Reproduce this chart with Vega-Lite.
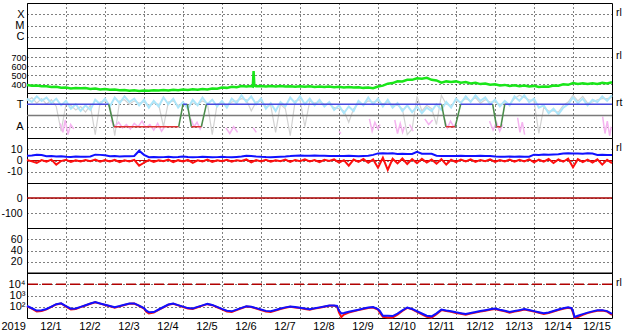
{
"$schema": "https://vega.github.io/schema/vega-lite/v6.json",
"padding": {"left": 0, "top": 2, "right": 0, "bottom": 0},
"background": "white",
"spacing": 0,
"bounds": "flush",
"config": {
  "view": {"stroke": "black", "strokeWidth": 1},
  "concat": {"spacing": 0},
  "axis": {"domain": false, "ticks": false, "tickSize": 0, "grid": true, "gridColor": "black", "gridOpacity": 1, "gridDash": [1,3], "gridWidth": 1, "labelColor": "black", "labelFont": "Liberation Sans, Arial, sans-serif", "labelFontSize": 10.5, "labelOverlap": false, "labelBound": false, "labelPadding": 5, "minExtent": 0},
  "axisY": {"title": "\u00a0", "titleX": -32, "titleY": 0, "titleAngle": 0, "titleAlign": "left", "titleBaseline": "top", "titleFontSize": 1, "titlePadding": 0, "labelOverlap": false},
  "text": {"font": "Liberation Sans, Arial, sans-serif"}
},
"datasets": {
  "one": [{}],
  "g": [{"d":0,"v":390},{"d":0.125,"v":380},{"d":0.25,"v":384},{"d":0.375,"v":374},{"d":0.5,"v":376},{"d":0.625,"v":366},{"d":0.75,"v":369},{"d":0.875,"v":358},{"d":1,"v":361},{"d":1.125,"v":351},{"d":1.25,"v":356},{"d":1.375,"v":352},{"d":1.5,"v":355},{"d":1.625,"v":345},{"d":1.75,"v":350},{"d":1.875,"v":340},{"d":2,"v":345},{"d":2.125,"v":335},{"d":2.25,"v":339},{"d":2.375,"v":330},{"d":2.5,"v":334},{"d":2.625,"v":325},{"d":2.75,"v":330},{"d":2.875,"v":322},{"d":3,"v":327},{"d":3.125,"v":324},{"d":3.25,"v":331},{"d":3.375,"v":327},{"d":3.5,"v":334},{"d":3.625,"v":329},{"d":3.75,"v":336},{"d":3.875,"v":331},{"d":4,"v":339},{"d":4.125,"v":334},{"d":4.25,"v":341},{"d":4.375,"v":336},{"d":4.5,"v":344},{"d":4.625,"v":340},{"d":4.75,"v":350},{"d":4.875,"v":348},{"d":5,"v":360},{"d":5.125,"v":357},{"d":5.25,"v":369},{"d":5.375,"v":365},{"d":5.5,"v":377},{"d":5.625,"v":373},{"d":5.75,"v":378},{"d":5.79,"v":372},{"d":5.81,"v":545},{"d":5.83,"v":380},{"d":5.875,"v":374},{"d":6,"v":379},{"d":6.125,"v":373},{"d":6.25,"v":378},{"d":6.375,"v":372},{"d":6.5,"v":377},{"d":6.625,"v":371},{"d":6.75,"v":376},{"d":6.875,"v":370},{"d":7,"v":375},{"d":7.125,"v":369},{"d":7.25,"v":374},{"d":7.375,"v":368},{"d":7.5,"v":373},{"d":7.625,"v":367},{"d":7.75,"v":371},{"d":7.875,"v":365},{"d":8,"v":369},{"d":8.125,"v":362},{"d":8.25,"v":366},{"d":8.375,"v":360},{"d":8.5,"v":364},{"d":8.625,"v":357},{"d":8.75,"v":361},{"d":8.875,"v":353},{"d":9,"v":372},{"d":9.125,"v":382},{"d":9.25,"v":404},{"d":9.375,"v":410},{"d":9.5,"v":430},{"d":9.625,"v":428},{"d":9.75,"v":446},{"d":9.875,"v":446},{"d":10,"v":464},{"d":10.125,"v":458},{"d":10.25,"v":468},{"d":10.375,"v":446},{"d":10.5,"v":440},{"d":10.625,"v":414},{"d":10.75,"v":429},{"d":10.875,"v":422},{"d":11,"v":429},{"d":11.125,"v":415},{"d":11.25,"v":421},{"d":11.375,"v":407},{"d":11.5,"v":413},{"d":11.625,"v":399},{"d":11.75,"v":405},{"d":11.875,"v":391},{"d":12,"v":397},{"d":12.125,"v":384},{"d":12.25,"v":390},{"d":12.375,"v":378},{"d":12.5,"v":385},{"d":12.625,"v":375},{"d":12.75,"v":382},{"d":12.875,"v":372},{"d":13,"v":379},{"d":13.125,"v":367},{"d":13.25,"v":373},{"d":13.375,"v":369},{"d":13.5,"v":384},{"d":13.625,"v":380},{"d":13.75,"v":396},{"d":13.875,"v":391},{"d":14,"v":410},{"d":14.125,"v":401},{"d":14.25,"v":409},{"d":14.375,"v":400},{"d":14.5,"v":407},{"d":14.625,"v":400},{"d":14.75,"v":413},{"d":14.875,"v":407},{"d":15,"v":420}],
  "p3": [{"d":0,"lb":3.5,"gy":3.3},{"d":0.125,"lb":3.2,"gy":3.6},{"d":0.25,"lb":3.7,"gy":3.1},{"d":0.375,"lb":3.3,"gy":3.5},{"d":0.5,"lb":3.6,"gy":3.0},{"d":0.625,"lb":3.1,"gy":3.4},{"d":0.75,"lb":3.5,"gy":2.8},{"d":0.875,"lb":2.9,"gy":0.6},{"d":1,"lb":3.3,"gy":3.0},{"d":1.125,"lb":2.6,"gy":2.9},{"d":1.25,"lb":3.0,"gy":2.5},{"d":1.375,"lb":2.4,"gy":2.8},{"d":1.5,"lb":2.9,"gy":2.3},{"d":1.625,"lb":2.5,"gy":2.9},{"d":1.75,"lb":3.4,"gy":0.3},{"d":1.875,"lb":3.0,"gy":3.2},{"d":2,"lb":3.5,"gy":3.3},{"d":2.125,"lb":2.8,"gy":3.0},{"d":2.25,"lb":3.6,"gy":0.2},{"d":2.375,"lb":3.1,"gy":3.3},{"d":2.5,"lb":3.7,"gy":3.4},{"d":2.625,"lb":3.2,"gy":3.0},{"d":2.75,"lb":3.5,"gy":3.3},{"d":2.875,"lb":2.9,"gy":3.1},{"d":3,"lb":3.4,"gy":3.2},{"d":3.125,"lb":2.7,"gy":2.9},{"d":3.25,"lb":3.3,"gy":3.1},{"d":3.375,"lb":2.8,"gy":3.0},{"d":3.5,"lb":3.6,"gy":1.0},{"d":3.625,"lb":3.0,"gy":3.2},{"d":3.75,"lb":3.5,"gy":3.3},{"d":3.875,"lb":2.7,"gy":2.9},{"d":4,"lb":3.2,"gy":3.0},{"d":4.125,"lb":2.6,"gy":2.8},{"d":4.25,"lb":3.4,"gy":3.1},{"d":4.375,"lb":2.9,"gy":3.0},{"d":4.5,"lb":3.6,"gy":3.3},{"d":4.625,"lb":3.0,"gy":3.1},{"d":4.75,"lb":3.4,"gy":0.3},{"d":4.875,"lb":2.8,"gy":3.0},{"d":5,"lb":3.3,"gy":3.1},{"d":5.125,"lb":2.7,"gy":2.9},{"d":5.25,"lb":3.5,"gy":3.2},{"d":5.375,"lb":3.1,"gy":3.3},{"d":5.5,"lb":3.8,"gy":3.5},{"d":5.625,"lb":3.2,"gy":3.4},{"d":5.75,"lb":3.7,"gy":2.4},{"d":5.875,"lb":3.0,"gy":3.2},{"d":6,"lb":3.5,"gy":3.3},{"d":6.125,"lb":2.6,"gy":2.8},{"d":6.25,"lb":3.1,"gy":2.9},{"d":6.375,"lb":2.4,"gy":0.5},{"d":6.5,"lb":3.2,"gy":3.0},{"d":6.625,"lb":2.8,"gy":2.6},{"d":6.75,"lb":3.6,"gy":0.2},{"d":6.875,"lb":3.1,"gy":3.3},{"d":7,"lb":3.7,"gy":3.4},{"d":7.125,"lb":3.0,"gy":1.0},{"d":7.25,"lb":3.5,"gy":3.3},{"d":7.375,"lb":2.9,"gy":3.1},{"d":7.5,"lb":3.4,"gy":3.2},{"d":7.625,"lb":2.8,"gy":3.0},{"d":7.75,"lb":3.2,"gy":3.0},{"d":7.875,"lb":2.5,"gy":2.7},{"d":8,"lb":2.9,"gy":2.6},{"d":8.125,"lb":2.2,"gy":2.4},{"d":8.25,"lb":2.8,"gy":1.4},{"d":8.375,"lb":2.4,"gy":2.6},{"d":8.5,"lb":3.3,"gy":3.1},{"d":8.625,"lb":2.9,"gy":3.0},{"d":8.75,"lb":3.6,"gy":3.3},{"d":8.875,"lb":3.0,"gy":3.2},{"d":9,"lb":3.5,"gy":3.3},{"d":9.125,"lb":2.8,"gy":3.0},{"d":9.25,"lb":3.4,"gy":3.2},{"d":9.375,"lb":2.7,"gy":2.9},{"d":9.5,"lb":3.1,"gy":2.9},{"d":9.625,"lb":2.4,"gy":2.6},{"d":9.75,"lb":2.9,"gy":0.3},{"d":9.875,"lb":2.3,"gy":0.8},{"d":10,"lb":2.8,"gy":3.7},{"d":10.125,"lb":2.2,"gy":2.4},{"d":10.25,"lb":2.7,"gy":2.9},{"d":10.375,"lb":2.4,"gy":2.6},{"d":10.5,"lb":3.0,"gy":1.2},{"d":10.625,"lb":2.5,"gy":3.8},{"d":10.75,"lb":3.2,"gy":3.0},{"d":10.875,"lb":2.7,"gy":2.9},{"d":11,"lb":3.5,"gy":3.3},{"d":11.125,"lb":3.1,"gy":3.2},{"d":11.25,"lb":3.7,"gy":3.5},{"d":11.375,"lb":3.2,"gy":3.3},{"d":11.5,"lb":3.8,"gy":3.6},{"d":11.625,"lb":3.3,"gy":3.1},{"d":11.75,"lb":3.6,"gy":3.4},{"d":11.875,"lb":3.0,"gy":3.2},{"d":12,"lb":3.4,"gy":3.2},{"d":12.125,"lb":2.8,"gy":3.0},{"d":12.25,"lb":3.3,"gy":3.1},{"d":12.375,"lb":2.9,"gy":3.0},{"d":12.5,"lb":3.7,"gy":3.5},{"d":12.625,"lb":3.3,"gy":3.8},{"d":12.75,"lb":3.8,"gy":3.6},{"d":12.875,"lb":3.2,"gy":3.4},{"d":13,"lb":3.5,"gy":3.3},{"d":13.125,"lb":2.7,"gy":0.4},{"d":13.25,"lb":2.9,"gy":2.7},{"d":13.375,"lb":2.2,"gy":2.4},{"d":13.5,"lb":2.6,"gy":2.4},{"d":13.625,"lb":2.1,"gy":2.3},{"d":13.75,"lb":2.7,"gy":2.9},{"d":13.875,"lb":3.0,"gy":3.2},{"d":14,"lb":3.6,"gy":3.8},{"d":14.125,"lb":3.1,"gy":3.3},{"d":14.25,"lb":3.5,"gy":3.7},{"d":14.375,"lb":2.9,"gy":3.1},{"d":14.5,"lb":3.4,"gy":3.2},{"d":14.625,"lb":3.2,"gy":3.4},{"d":14.75,"lb":3.7,"gy":3.5},{"d":14.875,"lb":3.3,"gy":3.5},{"d":15,"lb":3.8,"gy":3.6}],
  "pink": [{"d":0.85,"v":1.3,"s":1},{"d":0.92,"v":0.5,"s":1},{"d":0.98,"v":1.6,"s":1},{"d":1.05,"v":0.3,"s":1},{"d":1.12,"v":1.2,"s":1},{"d":1.2,"v":0.8,"s":1},
    {"d":2.15,"v":1.6,"s":2},{"d":2.25,"v":1.0,"s":2},{"d":2.35,"v":1.4,"s":2},{"d":2.45,"v":0.9,"s":2},{"d":2.55,"v":1.2,"s":2},{"d":2.65,"v":0.8,"s":2},{"d":2.75,"v":1.3,"s":2},{"d":2.85,"v":1.0,"s":2},{"d":2.95,"v":1.5,"s":2},{"d":3.05,"v":0.9,"s":2},{"d":3.15,"v":1.2,"s":2},{"d":3.25,"v":0.7,"s":2},{"d":3.35,"v":1.3,"s":2},{"d":3.45,"v":0.6,"s":2},{"d":3.55,"v":1.1,"s":2},
    {"d":4.2,"v":1.7,"s":3},{"d":4.28,"v":1.0,"s":3},{"d":4.36,"v":1.4,"s":3},{"d":4.44,"v":0.8,"s":3},{"d":4.5,"v":1.2,"s":3},
    {"d":5.1,"v":0.9,"s":4},{"d":5.2,"v":0.4,"s":4},{"d":5.3,"v":1.0,"s":4},{"d":5.4,"v":0.5,"s":4},
    {"d":5.8,"v":0.9,"s":5},{"d":5.88,"v":0.5,"s":5},
    {"d":8.0,"v":0.6,"s":6},{"d":8.05,"v":0.4,"s":6},
    {"d":8.78,"v":1.7,"s":7},{"d":8.85,"v":0.6,"s":7},{"d":8.92,"v":1.4,"s":7},{"d":9.0,"v":0.8,"s":7},{"d":9.05,"v":1.2,"s":7},
    {"d":9.43,"v":1.6,"s":8},{"d":9.5,"v":0.4,"s":8},{"d":9.57,"v":1.3,"s":8},{"d":9.63,"v":0.5,"s":8},{"d":9.68,"v":1.0,"s":8},
    {"d":9.81,"v":1.2,"s":9},{"d":9.9,"v":0.6,"s":9},
    {"d":10.2,"v":1.7,"s":10},{"d":10.3,"v":1.2,"s":10},{"d":10.4,"v":1.6,"s":10},
    {"d":10.7,"v":1.7,"s":11},{"d":10.78,"v":0.9,"s":11},{"d":10.86,"v":1.5,"s":11},{"d":10.94,"v":1.0,"s":11},{"d":11.0,"v":1.3,"s":11},
    {"d":11.86,"v":1.5,"s":12},{"d":11.95,"v":0.7,"s":12},{"d":12.04,"v":1.4,"s":12},{"d":12.12,"v":0.6,"s":12},{"d":12.2,"v":1.2,"s":12},
    {"d":12.58,"v":1.8,"s":13},{"d":12.64,"v":0.5,"s":13},{"d":12.7,"v":1.4,"s":13},{"d":12.76,"v":0.3,"s":13},
    {"d":14.76,"v":1.9,"s":14},{"d":14.82,"v":0.4,"s":14},{"d":14.88,"v":1.5,"s":14},{"d":14.94,"v":0.2,"s":14},{"d":14.98,"v":1.0,"s":14}],
  "state": [{"d":0,"v":3,"s":1,"k":"T"},{"d":2.095,"v":3,"s":1,"k":"T"},{"d":2.095,"v":3,"s":2,"k":"G"},{"d":2.23,"v":1,"s":2,"k":"G"},{"d":2.23,"v":1,"s":3,"k":"A"},{"d":3.89,"v":1,"s":3,"k":"A"},{"d":3.89,"v":1,"s":4,"k":"G"},{"d":4.0,"v":3,"s":4,"k":"G"},{"d":4.0,"v":3,"s":5,"k":"T"},{"d":4.11,"v":3,"s":5,"k":"T"},{"d":4.11,"v":3,"s":6,"k":"G"},{"d":4.215,"v":1,"s":6,"k":"G"},{"d":4.215,"v":1,"s":7,"k":"A"},{"d":4.47,"v":1,"s":7,"k":"A"},{"d":4.47,"v":1,"s":8,"k":"G"},{"d":4.6,"v":3,"s":8,"k":"G"},{"d":4.6,"v":3,"s":9,"k":"T"},{"d":10.63,"v":3,"s":9,"k":"T"},{"d":10.63,"v":3,"s":10,"k":"G"},{"d":10.74,"v":1,"s":10,"k":"G"},{"d":10.74,"v":1,"s":11,"k":"A"},{"d":10.98,"v":1,"s":11,"k":"A"},{"d":10.98,"v":1,"s":12,"k":"G"},{"d":11.12,"v":3,"s":12,"k":"G"},{"d":11.12,"v":3,"s":13,"k":"T"},{"d":11.94,"v":3,"s":13,"k":"T"},{"d":11.94,"v":3,"s":14,"k":"G"},{"d":12.04,"v":1,"s":14,"k":"G"},{"d":12.04,"v":1,"s":15,"k":"A"},{"d":12.15,"v":1,"s":15,"k":"A"},{"d":12.15,"v":1,"s":16,"k":"G"},{"d":12.25,"v":3,"s":16,"k":"G"},{"d":12.25,"v":3,"s":17,"k":"T"},{"d":15,"v":3,"s":17,"k":"T"}],
  "p4": [{"d":0,"b":4.3,"r":0.5},{"d":0.125,"b":4.5,"r":-0.8},{"d":0.25,"b":5.2,"r":-2.2},{"d":0.375,"b":4.8,"r":0.3},{"d":0.5,"b":3.8,"r":-1.0},{"d":0.625,"b":3.9,"r":0.8},{"d":0.75,"b":3.6,"r":-3.7},{"d":0.875,"b":3.8,"r":-0.5},{"d":1,"b":3.4,"r":0.6},{"d":1.125,"b":3.2,"r":-1.2},{"d":1.25,"b":3.5,"r":0.2},{"d":1.375,"b":3.3,"r":-0.9},{"d":1.5,"b":3.4,"r":0.4},{"d":1.625,"b":3.6,"r":-0.6},{"d":1.75,"b":5.2,"r":0.9},{"d":1.875,"b":5.0,"r":-1.1},{"d":2,"b":4.6,"r":0.3},{"d":2.125,"b":3.8,"r":-0.8},{"d":2.25,"b":3.9,"r":0.5},{"d":2.375,"b":3.6,"r":-1.4},{"d":2.5,"b":3.8,"r":0.1},{"d":2.625,"b":3.7,"r":-0.9},{"d":2.75,"b":4.0,"r":0.6},{"d":2.875,"b":8.7,"r":-4.6},{"d":3,"b":5.0,"r":-2.0},{"d":3.125,"b":2.9,"r":0.4},{"d":3.25,"b":3.0,"r":-1.3},{"d":3.375,"b":2.8,"r":0.2},{"d":3.5,"b":3.0,"r":-0.7},{"d":3.625,"b":3.3,"r":0.8},{"d":3.75,"b":2.9,"r":-1.5},{"d":3.875,"b":3.1,"r":0.3},{"d":4,"b":3.6,"r":-0.9},{"d":4.125,"b":3.2,"r":0.5},{"d":4.25,"b":2.9,"r":-2.1},{"d":4.375,"b":3.0,"r":0.2},{"d":4.5,"b":3.4,"r":-0.8},{"d":4.625,"b":3.1,"r":0.9},{"d":4.75,"b":2.8,"r":-1.2},{"d":4.875,"b":3.0,"r":0.1},{"d":5,"b":3.3,"r":-0.6},{"d":5.125,"b":3.0,"r":0.7},{"d":5.25,"b":2.9,"r":-1.0},{"d":5.375,"b":3.2,"r":0.3},{"d":5.5,"b":3.5,"r":-0.5},{"d":5.625,"b":4.3,"r":1.0},{"d":5.75,"b":4.0,"r":-1.6},{"d":5.875,"b":3.6,"r":0.4},{"d":6,"b":3.3,"r":-0.8},{"d":6.125,"b":3.1,"r":0.6},{"d":6.25,"b":3.0,"r":-1.1},{"d":6.375,"b":3.2,"r":0.2},{"d":6.5,"b":3.4,"r":-0.7},{"d":6.625,"b":3.6,"r":0.9},{"d":6.75,"b":3.9,"r":-1.3},{"d":6.875,"b":4.3,"r":0.5},{"d":7,"b":4.4,"r":-0.6},{"d":7.125,"b":4.2,"r":1.1},{"d":7.25,"b":4.3,"r":-0.9},{"d":7.375,"b":4.5,"r":0.4},{"d":7.5,"b":4.3,"r":-1.4},{"d":7.625,"b":4.2,"r":0.6},{"d":7.75,"b":4.0,"r":-0.5},{"d":7.875,"b":4.1,"r":1.0},{"d":8,"b":3.9,"r":-1.8},{"d":8.125,"b":4.0,"r":0.3},{"d":8.25,"b":4.2,"r":-4.6},{"d":8.375,"b":4.0,"r":0.8},{"d":8.5,"b":3.8,"r":-1.2},{"d":8.625,"b":4.1,"r":1.3},{"d":8.75,"b":4.3,"r":-2.0},{"d":8.875,"b":5.0,"r":0.9},{"d":9,"b":6.3,"r":-6.4},{"d":9.125,"b":6.5,"r":2.5},{"d":9.25,"b":6.2,"r":-8.4},{"d":9.375,"b":6.4,"r":1.5},{"d":9.5,"b":5.8,"r":-2.6},{"d":9.625,"b":5.9,"r":1.8},{"d":9.75,"b":5.7,"r":-3.1},{"d":9.875,"b":5.8,"r":1.2},{"d":10,"b":7.8,"r":-2.4},{"d":10.125,"b":6.0,"r":1.6},{"d":10.25,"b":6.1,"r":-1.9},{"d":10.375,"b":6.0,"r":0.8},{"d":10.5,"b":4.3,"r":-2.8},{"d":10.625,"b":4.0,"r":1.2},{"d":10.75,"b":4.1,"r":-3.6},{"d":10.875,"b":3.9,"r":0.6},{"d":11,"b":4.0,"r":-1.5},{"d":11.125,"b":4.2,"r":0.9},{"d":11.25,"b":3.9,"r":-0.8},{"d":11.375,"b":4.1,"r":1.1},{"d":11.5,"b":4.0,"r":-1.2},{"d":11.625,"b":4.2,"r":0.5},{"d":11.75,"b":3.9,"r":-0.7},{"d":11.875,"b":4.0,"r":1.0},{"d":12,"b":3.5,"r":-1.3},{"d":12.125,"b":3.4,"r":0.4},{"d":12.25,"b":3.3,"r":-0.9},{"d":12.375,"b":3.5,"r":0.8},{"d":12.5,"b":3.4,"r":-1.1},{"d":12.625,"b":3.5,"r":0.6},{"d":12.75,"b":3.3,"r":-0.8},{"d":12.875,"b":3.4,"r":1.1},{"d":13,"b":5.2,"r":-1.6},{"d":13.125,"b":5.0,"r":0.7},{"d":13.25,"b":5.3,"r":-1.0},{"d":13.375,"b":5.1,"r":1.3},{"d":13.5,"b":5.4,"r":-2.2},{"d":13.625,"b":5.6,"r":0.9},{"d":13.75,"b":6.3,"r":-1.1},{"d":13.875,"b":6.4,"r":1.6},{"d":14,"b":6.2,"r":-6.1},{"d":14.125,"b":6.3,"r":1.2},{"d":14.25,"b":6.1,"r":-1.4},{"d":14.375,"b":6.4,"r":0.8},{"d":14.5,"b":6.2,"r":-1.9},{"d":14.625,"b":4.9,"r":1.0},{"d":14.75,"b":5.0,"r":-3.7},{"d":14.875,"b":4.8,"r":0.6},{"d":15,"b":4.9,"r":-2.4}],
  "p7": [{"d":0,"b":117,"r":110},{"d":0.125,"b":74,"r":68},{"d":0.25,"b":46,"r":38},{"d":0.375,"b":49,"r":42},{"d":0.5,"b":63,"r":58},{"d":0.625,"b":103,"r":98},{"d":0.75,"b":169,"r":160},{"d":0.875,"b":203,"r":195},{"d":1,"b":112,"r":104},{"d":1.125,"b":67,"r":58},{"d":1.25,"b":69,"r":62},{"d":1.375,"b":97,"r":92},{"d":1.5,"b":137,"r":130},{"d":1.625,"b":192,"r":185},{"d":1.75,"b":259,"r":250},{"d":1.875,"b":198,"r":190},{"d":2,"b":152,"r":145},{"d":2.125,"b":117,"r":110},{"d":2.25,"b":91,"r":84},{"d":2.375,"b":115,"r":108},{"d":2.5,"b":149,"r":142},{"d":2.625,"b":193,"r":185},{"d":2.75,"b":199,"r":190},{"d":2.875,"b":124,"r":118},{"d":3,"b":77,"r":70},{"d":3.06,"b":45,"r":36},{"d":3.125,"b":33,"r":25},{"d":3.25,"b":34,"r":30},{"d":3.375,"b":57,"r":52},{"d":3.5,"b":95,"r":88},{"d":3.625,"b":158,"r":150},{"d":3.75,"b":191,"r":182},{"d":3.875,"b":140,"r":132},{"d":4,"b":103,"r":96},{"d":4.125,"b":76,"r":70},{"d":4.25,"b":71,"r":64},{"d":4.375,"b":97,"r":90},{"d":4.5,"b":132,"r":125},{"d":4.625,"b":179,"r":170},{"d":4.75,"b":146,"r":138},{"d":4.875,"b":97,"r":90},{"d":5,"b":64,"r":58},{"d":5.125,"b":44,"r":38},{"d":5.25,"b":39,"r":34},{"d":5.375,"b":56,"r":50},{"d":5.5,"b":79,"r":74},{"d":5.625,"b":112,"r":106},{"d":5.75,"b":101,"r":95},{"d":5.875,"b":75,"r":70},{"d":6,"b":57,"r":52},{"d":6.125,"b":43,"r":38},{"d":6.25,"b":40,"r":35},{"d":6.375,"b":52,"r":47},{"d":6.5,"b":69,"r":64},{"d":6.625,"b":88,"r":82},{"d":6.75,"b":107,"r":100},{"d":6.875,"b":93,"r":87},{"d":7,"b":81,"r":76},{"d":7.125,"b":69,"r":64},{"d":7.25,"b":59,"r":54},{"d":7.375,"b":73,"r":68},{"d":7.5,"b":88,"r":82},{"d":7.625,"b":107,"r":100},{"d":7.75,"b":129,"r":120},{"d":7.875,"b":129,"r":122},{"d":7.95,"b":117,"r":108},{"d":8,"b":45,"r":30},{"d":8.06,"b":26,"r":12},{"d":8.125,"b":28,"r":20},{"d":8.25,"b":36,"r":31},{"d":8.375,"b":44,"r":39},{"d":8.5,"b":55,"r":50},{"d":8.625,"b":69,"r":63},{"d":8.75,"b":84,"r":78},{"d":8.875,"b":93,"r":86},{"d":9,"b":63,"r":55},{"d":9.05,"b":40,"r":28},{"d":9.125,"b":16,"r":13},{"d":9.25,"b":16,"r":11},{"d":9.375,"b":15,"r":11},{"d":9.5,"b":25,"r":20},{"d":9.625,"b":48,"r":42},{"d":9.75,"b":86,"r":80},{"d":9.875,"b":64,"r":58},{"d":10,"b":40,"r":35},{"d":10.125,"b":25,"r":21},{"d":10.25,"b":16,"r":13},{"d":10.375,"b":14,"r":10.5},{"d":10.5,"b":26,"r":22},{"d":10.625,"b":56,"r":50},{"d":10.75,"b":46,"r":41},{"d":10.875,"b":39,"r":35},{"d":11,"b":32,"r":28},{"d":11.125,"b":27,"r":24},{"d":11.25,"b":23,"r":20},{"d":11.375,"b":28,"r":25},{"d":11.5,"b":34,"r":30},{"d":11.625,"b":41,"r":37},{"d":11.75,"b":49,"r":45},{"d":11.875,"b":59,"r":54},{"d":12,"b":69,"r":63},{"d":12.125,"b":54,"r":49},{"d":12.25,"b":44,"r":40},{"d":12.375,"b":34,"r":30},{"d":12.5,"b":41,"r":37},{"d":12.625,"b":50,"r":45},{"d":12.75,"b":62,"r":56},{"d":12.875,"b":51,"r":46},{"d":13,"b":41,"r":37},{"d":13.125,"b":33,"r":29},{"d":13.25,"b":26,"r":23},{"d":13.375,"b":31,"r":28},{"d":13.5,"b":42,"r":38},{"d":13.625,"b":56,"r":51},{"d":13.75,"b":73,"r":67},{"d":13.875,"b":88,"r":81},{"d":13.96,"b":77,"r":70},{"d":14,"b":40,"r":30},{"d":14.04,"b":12.5,"r":10.5},{"d":14.125,"b":16,"r":12},{"d":14.25,"b":22,"r":19},{"d":14.375,"b":30,"r":27},{"d":14.5,"b":39,"r":35},{"d":14.625,"b":48,"r":44},{"d":14.75,"b":50,"r":46},{"d":14.875,"b":41,"r":37},{"d":15,"b":23,"r":19}]
},
"vconcat": [
  {"width": 585, "height": 45,
   "layer": [
    {"data": {"name": "one"}, "mark": {"type": "text", "text": "rl", "align": "left", "baseline": "middle", "dx": 4, "dy": -1.5, "fontSize": 10.5, "color": "black"},
     "encoding": {"x": {"datum": 15, "type": "quantitative", "scale": {"domain": [0,15], "nice": false, "zero": false}, "axis": {"values": [0,1,2,3,4,5,6,7,8,9,10,11,12,13,14], "labels": false, "title": null, "grid": true}},
       "y": {"datum": 3, "type": "quantitative", "scale": {"domain": [0,4], "nice": false, "zero": false},
         "axis": {"values": [1,2,3], "labelExpr": "datum.value == 3 ? 'X' : datum.value == 2 ? 'M' : 'C'", "labelPadding": 3, "grid": true, "labelOverlap": false, "labelFontSize": 11}}}}
   ]},
  {"width": 585, "height": 45,
   "resolve": {"axis": {"x": "independent", "y": "independent"}},
   "layer": [
    {"data": {"name": "g"}, "mark": {"type": "line", "color": "#19e619", "strokeWidth": 2.5},
     "encoding": {"x": {"field": "d", "type": "quantitative", "scale": {"domain": [0,15], "nice": false, "zero": false}, "axis": {"values": [0,1,2,3,4,5,6,7,8,9,10,11,12,13,14], "labels": false, "title": null, "grid": true}},
       "y": {"field": "v", "type": "quantitative", "scale": {"domain": [300,800], "nice": false, "zero": false}, "axis": {"values": [400,500,600,700], "labelPadding": 1, "grid": true, "labelOverlap": false, "labelFontSize": 9, "labelSeparation": 0}}}},
    {"data": {"name": "one"}, "mark": {"type": "text", "text": "rl", "align": "left", "baseline": "middle", "dx": 4, "dy": -1.5, "fontSize": 10.5, "color": "black"},
     "encoding": {"x": {"datum": 15, "type": "quantitative", "axis": null}, "y": {"datum": 700, "type": "quantitative", "axis": null}}}
   ]},
  {"width": 585, "height": 45,
   "resolve": {"axis": {"x": "independent", "y": "independent"}},
   "layer": [
    {"data": {"name": "p3"}, "mark": {"type": "line", "color": "#d2d2d2", "strokeWidth": 1.2},
     "encoding": {"x": {"field": "d", "type": "quantitative", "scale": {"domain": [0,15], "nice": false, "zero": false}, "axis": {"values": [0,1,2,3,4,5,6,7,8,9,10,11,12,13,14], "labels": false, "title": null, "grid": true}},
       "y": {"field": "gy", "type": "quantitative", "scale": {"domain": [0,4], "nice": false, "zero": false}, "axis": {"values": [1,3], "labelExpr": "datum.value == 3 ? 'T' : 'A'", "labelPadding": 4, "grid": true, "labelOverlap": false, "labelFontSize": 11}}}},
    {"data": {"name": "p3"}, "mark": {"type": "line", "color": "#ade6fa", "strokeWidth": 2},
     "encoding": {"x": {"field": "d", "type": "quantitative", "axis": null}, "y": {"field": "lb", "type": "quantitative", "axis": null}}},
    {"data": {"name": "pink"}, "mark": {"type": "line", "color": "#f5b4f0", "strokeWidth": 1.5},
     "encoding": {"x": {"field": "d", "type": "quantitative", "axis": null}, "y": {"field": "v", "type": "quantitative", "axis": null}, "detail": {"field": "s", "type": "nominal"}}},
    {"data": {"name": "one"}, "mark": {"type": "rule", "color": "#7a7a7a", "strokeWidth": 1.5},
     "encoding": {"y": {"datum": 2, "type": "quantitative", "axis": null}}},
    {"data": {"name": "state"}, "mark": {"type": "line", "strokeWidth": 1.5},
     "encoding": {"x": {"field": "d", "type": "quantitative", "axis": null}, "y": {"field": "v", "type": "quantitative", "axis": null},
       "color": {"field": "k", "type": "nominal", "scale": {"domain": ["T","A","G"], "range": ["#4848de","#e03232","#4a8c4a"]}, "legend": null},
       "detail": {"field": "s", "type": "nominal"}}},
    {"data": {"name": "one"}, "mark": {"type": "text", "text": "rt", "align": "left", "baseline": "middle", "dx": 4, "dy": -1.5, "fontSize": 10.5, "color": "black"},
     "encoding": {"x": {"datum": 15, "type": "quantitative", "axis": null}, "y": {"datum": 3, "type": "quantitative", "axis": null}}}
   ]},
  {"width": 585, "height": 45,
   "resolve": {"axis": {"x": "independent", "y": "independent"}},
   "layer": [
    {"data": {"name": "one"}, "mark": {"type": "rule", "color": "#c00000", "strokeWidth": 1},
     "encoding": {"y": {"datum": 0, "type": "quantitative", "scale": {"domain": [-20,20], "nice": false, "zero": false},
       "axis": {"values": [-10,0,10], "labelExpr": "datum.value < 0 ? '-' + abs(datum.value) : '' + datum.value", "grid": true, "labelOverlap": false}}}},
    {"data": {"name": "p4"}, "mark": {"type": "line", "color": "#ff1010", "strokeWidth": 2},
     "encoding": {"x": {"field": "d", "type": "quantitative", "scale": {"domain": [0,15], "nice": false, "zero": false}, "axis": {"values": [0,1,2,3,4,5,6,7,8,9,10,11,12,13,14], "labels": false, "title": null, "grid": true}},
       "y": {"field": "r", "type": "quantitative", "axis": null}}},
    {"data": {"name": "p4"}, "mark": {"type": "line", "color": "#1010ff", "strokeWidth": 2},
     "encoding": {"x": {"field": "d", "type": "quantitative", "axis": null}, "y": {"field": "b", "type": "quantitative", "axis": null}}},
    {"data": {"name": "one"}, "mark": {"type": "text", "text": "rl", "align": "left", "baseline": "middle", "dx": 4, "dy": -1.5, "fontSize": 10.5, "color": "black"},
     "encoding": {"x": {"datum": 15, "type": "quantitative", "axis": null}, "y": {"datum": 10, "type": "quantitative", "axis": null}}}
   ]},
  {"width": 585, "height": 45,
   "layer": [
    {"data": {"name": "one"}, "mark": {"type": "rule", "color": "#a80000", "strokeWidth": 1.3},
     "encoding": {"x": {"datum": 0, "type": "quantitative", "scale": {"domain": [0,15], "nice": false, "zero": false}, "axis": {"values": [0,1,2,3,4,5,6,7,8,9,10,11,12,13,14], "labels": false, "title": null, "grid": true}},
       "x2": {"datum": 15},
       "y": {"datum": 0, "type": "quantitative", "scale": {"domain": [-200,100], "nice": false, "zero": false},
         "axis": {"values": [-100,0], "labelExpr": "datum.value < 0 ? '-' + abs(datum.value) : '' + datum.value", "grid": true, "labelOverlap": false}}}}
   ]},
  {"width": 585, "height": 45,
   "layer": [
    {"data": {"name": "one"}, "mark": {"type": "rule", "color": "black", "strokeWidth": 1},
     "encoding": {"x": {"datum": 0, "type": "quantitative", "scale": {"domain": [0,15], "nice": false, "zero": false}, "axis": {"values": [0,1,2,3,4,5,6,7,8,9,10,11,12,13,14], "labels": false, "title": null, "grid": true}},
       "x2": {"datum": 15},
       "y": {"datum": 0, "type": "quantitative", "scale": {"domain": [0,80], "nice": false, "zero": false}, "axis": {"values": [20,40,60], "grid": true, "labelOverlap": false}}}}
   ]},
  {"width": 585, "height": 45,
   "resolve": {"axis": {"x": "independent", "y": "independent"}},
   "layer": [
    {"data": {"name": "one"}, "mark": {"type": "rule", "color": "#b00000", "strokeWidth": 1.3, "strokeDash": [10,4]},
     "encoding": {"y": {"datum": 10000, "type": "quantitative", "scale": {"type": "log", "domain": [10,100000], "nice": false},
       "axis": {"values": [100,1000,10000], "labelExpr": "datum.value == 10000 ? '10⁴' : datum.value == 1000 ? '10³' : '10²'", "labelPadding": 2, "grid": true, "labelOverlap": false, "labelFontSize": 11}}}},
    {"data": {"name": "p7"}, "mark": {"type": "line", "color": "#ff1010", "strokeWidth": 2},
     "encoding": {"x": {"field": "d", "type": "quantitative", "scale": {"domain": [0,15], "nice": false, "zero": false},
       "axis": {"values": [0,1,2,3,4,5,6,7,8,9,10,11,12,13,14], "grid": true, "labelExpr": "'12/' + (datum.value + 1)", "labelOffset": 23.5, "labelFlush": false, "labelPadding": 11.5, "labelBaseline": "alphabetic", "labelAlign": "center", "labelFontSize": 11, "labelOverlap": false,
         "title": "2019", "titleX": -26, "titleY": 11.7, "titleAlign": "left", "titleAnchor": "start", "titleBaseline": "alphabetic", "titleFontWeight": "normal", "titleFontSize": 11, "titleFont": "Liberation Sans, Arial, sans-serif", "titleColor": "black", "titlePadding": 0}},
       "y": {"field": "r", "type": "quantitative", "axis": null}}},
    {"data": {"name": "p7"}, "mark": {"type": "line", "color": "#1010ff", "strokeWidth": 2},
     "encoding": {"x": {"field": "d", "type": "quantitative", "axis": null}, "y": {"field": "b", "type": "quantitative", "axis": null}}},
    {"data": {"name": "one"}, "mark": {"type": "text", "text": "rl", "align": "left", "baseline": "middle", "dx": 4, "dy": -1.5, "fontSize": 10.5, "color": "black"},
     "encoding": {"x": {"datum": 15, "type": "quantitative", "axis": null}, "y": {"datum": 10000, "type": "quantitative", "axis": null}}}
   ]}
]
}
